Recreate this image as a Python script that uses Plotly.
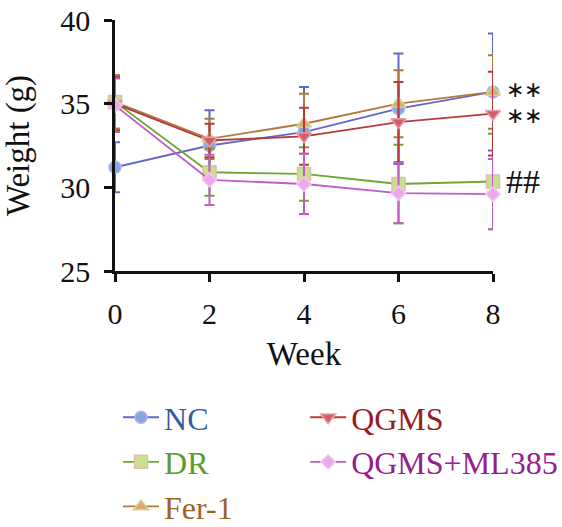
import plotly.graph_objects as go

weeks = [0, 2, 4, 6, 8]
nc = [31.2, 32.5, 33.3, 34.7, 35.7]
nc_err = [1.5, 2.1, 2.7, 3.3, 3.5]
dr = [35.1, 30.9, 30.8, 30.2, 30.35]
dr_err = [1.6, 1.4, 1.6, 2.35, 2.85]
fer1 = [35.1, 32.9, 33.8, 35.0, 35.7]
fer1_err = [1.6, 1.2, 1.8, 2.0, 2.2]
qgms = [35.0, 32.8, 33.05, 33.9, 34.4]
qgms_err = [1.6, 1.0, 1.7, 2.4, 2.5]
ml385 = [34.9, 30.45, 30.2, 29.65, 29.6]
ml385_err = [1.6, 1.5, 1.8, 1.8, 2.1]

annot_text = ["∗∗", "∗∗", "##"]
annot_y = [35.7, 34.4, 30.35]
annot_size = [22, 22, 34]
annot_shift = [2, -2, 0]

FONT = "Liberation Serif"

series = [
    ("NC", nc, nc_err, "#6466c8", "#82a8de", "#b8b0e6", "circle", 12, "#2f5da6", "legend"),
    ("DR", dr, dr_err, "#6aa832", "#c8e08c", "#e2bcb4", "square", 13, "#5b9c2a", "legend"),
    ("Fer-1", fer1, fer1_err, "#b07a3c", "#eaa074", "#c8dc90", "triangle-up", 13, "#a0631e", "legend"),
    ("QGMS", qgms, qgms_err, "#b63a3a", "#d65c6c", "#e8a0a8", "triangle-down", 13, "#9c1a1c", "legend2"),
    ("QGMS+ML385", ml385, ml385_err, "#c25cc8", "#eaaaea", "#f0c8f0", "diamond", 11, "#95208c", "legend2"),
]

fig = go.Figure()
for name, y, err, lc, mf, mo, sym, sz, tc, lg in series:
    fig.add_trace(go.Scatter(
        x=weeks, y=y, mode="lines+markers",
        name=f"<span style='color:{tc}'>{name}</span>",
        line=dict(color=lc, width=1.8),
        marker=dict(symbol=sym, size=sz, color=mf, line=dict(color=mo, width=1.5)),
        error_y=dict(type="data", array=err, visible=True, color=lc, thickness=2, width=5),
        cliponaxis=False,
        legend=lg,
    ))

for t, yv, s, sh in zip(annot_text, annot_y, annot_size, annot_shift):
    fig.add_annotation(x=weeks[-1], y=yv, text=t, showarrow=False, xanchor="left",
                       xshift=11, yshift=sh, font=dict(family=FONT, size=s, color="#111111"))

fig.update_layout(
    width=562, height=527,
    margin=dict(l=115, r=69, t=20, b=256, autoexpand=False),
    plot_bgcolor="white", paper_bgcolor="white",
    font=dict(family=FONT, size=30, color="#111111"),
    xaxis=dict(range=[0, 8], tickvals=weeks, showline=True, linecolor="#111111", linewidth=2.5,
               ticks="outside", ticklen=8, tickwidth=2.5, tickcolor="#111111", showgrid=False,
               zeroline=False, title=dict(text="Week", font=dict(size=33), standoff=14),
               tickfont=dict(size=30), ticklabelstandoff=6, automargin=False),
    yaxis=dict(range=[25, 40], tickvals=[25, 30, 35, 40], showline=True, linecolor="#111111",
               linewidth=2.5, ticks="outside", ticklen=8, tickwidth=2.5, tickcolor="#111111",
               showgrid=False, zeroline=False, title=dict(text="Weight (g)", font=dict(size=33), standoff=24),
               tickfont=dict(size=30), ticklabelstandoff=8, automargin=False),
    legend=dict(x=0.008, y=-0.474, xanchor="left", yanchor="top", font=dict(size=32),
                bgcolor="rgba(0,0,0,0)", itemwidth=36, tracegroupgap=0),
    legend2=dict(x=0.503, y=-0.474, xanchor="left", yanchor="top", font=dict(size=32),
                 bgcolor="rgba(0,0,0,0)", itemwidth=36, tracegroupgap=0),
    showlegend=True,
)

fig.write_html("out.html")
